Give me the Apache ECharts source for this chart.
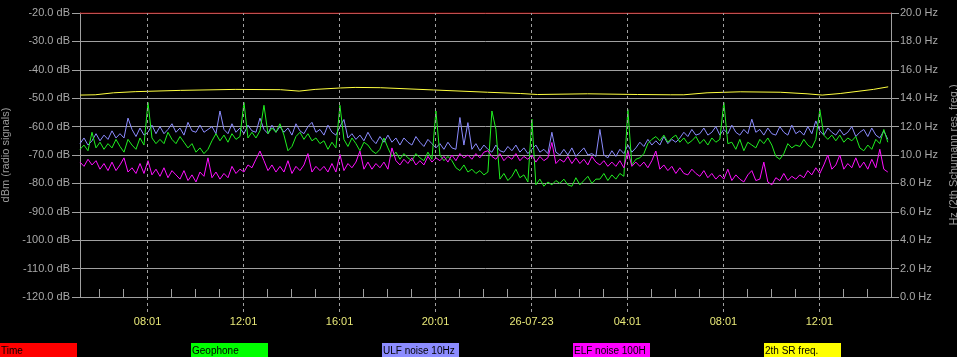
<!DOCTYPE html>
<html>
<head>
<meta charset="utf-8">
<script src="https://cdn.jsdelivr.net/npm/echarts@6/dist/echarts.min.js"></script>
<style>
  html, body { margin: 0; padding: 0; background: #000; }
  #chart { width: 957px; height: 357px; }
</style>
</head>
<body>
<div id="chart"></div>
<script>
// x values are minutes since 25-07-23 00:00, one sample every 10 min
var startMin = 312;
var endMin = 2340;
var stepMin = 10;

var labelTimes = [481, 721, 961, 1201, 1441, 1681, 1921, 2161];
var labelTexts = ["08:01", "12:01", "16:01", "20:01", "26-07-23", "04:01", "08:01", "12:01"];

var legendNames = ["Time", "Geophone", "ULF noise 10Hz", "ELF noise 100H", "2th SR freq."];
var legendColors = ["#ff0000", "#00ff00", "#8c8cff", "#ff00ff", "#ffff00"];

// dBm
var ulf = [
  -66,-64,-66.5,-65,-62.5,-65,-63,-64.5,-61.5,-64,
  -62.5,-64,-57,-61,-63.5,-60.5,-63,-62,-59.5,-62.5,
  -60,-62.5,-61,-59,-62,-60.5,-63,-58.5,-61.5,-62,
  -59.5,-62,-61,-60,-62.5,-54.5,-61,-62.5,-59,-62,
  -60.5,-62.5,-59.5,-61.5,-62,-57,-61,-62.5,-59.5,-62,
  -60,-62,-60.5,-63,-59,-61.5,-62.5,-60,-58.5,-62,
  -61,-63,-59.5,-62,-63,-60,-57.5,-64,-62.5,-64.5,
  -63,-65,-62,-64.5,-66,-63.5,-65.5,-63,-65.5,-64,
  -66.5,-64,-65.5,-66.5,-63.5,-65.5,-67,-64.5,-66,-67.5,
  -66,-68,-65.5,-67.5,-68,-56.8,-66.5,-58.6,-68,-66,
  -68.5,-66.5,-68,-69,-66.5,-68.5,-69,-67,-68.5,-66.5,
  -69,-67.5,-69.5,-68,-66.5,-69,-68,-69.5,-62,-69,
  -70,-68,-70,-67.5,-70.5,-69,-67.5,-70,-69.5,-70.5,
  -61,-70,-71,-68.5,-70.5,-68,-69.5,-66.5,-69,-67.5,
  -65.5,-67,-64.5,-66.5,-65,-66.5,-63.5,-66,-64.5,-65.5,
  -64,-62,-63.5,-61,-63,-62.5,-60.5,-63,-62,-60,
  -63,-61,-62.5,-59.5,-62,-63,-61,-62.5,-57.4,-62,
  -61,-63,-60.5,-62.5,-63,-60,-62,-63,-59.5,-62.5,
  -61.5,-63,-60,-62.5,-58,-61.5,-63,-60.5,-62,-63,
  -61,-63,-62,-60,-63.5,-62,-61,-63.5,-60.5,-63,
  -64,-61.5,-64.5
];

var geophone = [
  -68,-66.5,-68.5,-62,-67.5,-65.5,-68,-66,-67.5,-64.5,
  -67,-69,-64.5,-66.5,-68,-64,-66.5,-51.5,-64,-66,
  -64.5,-66,-62,-64.5,-66,-63.5,-65.5,-67.5,-66,-69,
  -67.5,-69.5,-68,-65,-62.5,-65,-63,-65.5,-62.5,-64.5,
  -63.5,-51.5,-64,-62,-64,-61.5,-52.5,-62.5,-60.5,-62,
  -59,-63,-68.5,-67,-63.5,-62,-64.5,-62.5,-65,-64,
  -66,-65,-68,-65.5,-67.5,-52.5,-64.5,-67,-64,-66,
  -68.5,-65.5,-66.5,-68.5,-69.5,-68,-64,-67.5,-70.5,-69,
  -71.5,-69.5,-71,-72,-69.5,-71,-72,-69,-71.5,-54.5,
  -70,-72,-70.5,-72,-74.5,-75.5,-73.5,-76,-75,-76.5,
  -75.5,-77,-76,-54.5,-61,-78.5,-76.5,-79,-77.5,-75,
  -78,-77,-79.5,-57.4,-80.5,-78.5,-81,-79.5,-80.5,-79,
  -80,-78.5,-80.5,-81,-78,-80.5,-79,-77.5,-80,-78.5,
  -78.5,-76.5,-79,-77,-78.5,-76.5,-77.5,-54,-73.5,-71.5,
  -71,-69.5,-66,-64.5,-63.5,-65,-63,-65.5,-64,-63,
  -65.5,-64,-66,-65,-63.5,-66,-64.5,-66.5,-64,-65.5,
  -64.5,-51.5,-66,-65.5,-68,-64.5,-68.5,-65.5,-66.5,-67.5,
  -64.5,-66,-64,-66.5,-70.5,-71.5,-69.5,-66,-67.5,-66.5,
  -67,-64.5,-66.5,-67.5,-64.5,-54,-63,-64.5,-63,-65,
  -63,-65.5,-64,-65,-63.5,-67.5,-68.5,-66.5,-68,-64.5,
  -66,-61,-65.5
];

var elf = [
  -72.5,-74,-71.5,-73.5,-72,-75,-73,-75.5,-72.5,-75.5,
  -73.5,-71,-76,-74.5,-76.5,-73,-76.5,-72,-77,-75,
  -77.5,-74.5,-78,-75.5,-77,-78.5,-75.5,-79,-77,-79.5,
  -76,-77.5,-71,-78,-76,-78.5,-76.5,-78,-74,-76.5,
  -75,-76,-73.5,-74.5,-71.5,-68.6,-72,-75.5,-73.5,-76,
  -74,-76,-72,-76.5,-74,-75.5,-73.5,-69.5,-76,-74,
  -75.5,-74,-76,-73,-76,-69.8,-75.5,-73,-74.5,-72.5,
  -68.6,-75,-72.5,-75,-73,-74.5,-72.5,-75,-67.5,-72,
  -73.5,-71.5,-73,-71,-73.5,-72,-73.5,-70.5,-72.5,-71,
  -72,-70.5,-72.5,-70,-72,-69.5,-71,-70,-71.5,-69.5,
  -71,-69,-68.5,-70.5,-71.5,-69.5,-72,-70.5,-71.5,-69.5,
  -72,-70.5,-71.5,-70,-72.5,-70.5,-72,-71,-65.6,-73,
  -71.5,-72.5,-70.5,-73,-71,-73,-71.5,-73.5,-70.5,-72.5,
  -73.5,-72,-74,-72.5,-74,-72,-74.5,-68.5,-74,-72.5,
  -74,-72.5,-74.5,-72,-68.6,-75,-73.5,-75.5,-74,-76.5,
  -74.5,-76.5,-77,-75,-76.5,-77.5,-75.5,-78,-76.5,-78.5,
  -77,-78.5,-75,-79,-77,-78.5,-79.5,-77,-75.5,-79,
  -78.5,-72.5,-79.5,-80.5,-78,-79,-76.5,-79,-77.5,-78.5,
  -77,-78,-75.5,-77,-74.5,-76.5,-73.5,-70,-75,-73.5,
  -70,-75,-73,-74.5,-71,-74.5,-72.5,-75,-71.5,-74.5,
  -68,-75,-76
];

// Hz, right axis
var srTimes = [313, 350, 396, 450, 563, 700, 813, 860, 900, 963, 1000, 1063, 1196, 1331, 1413, 1456, 1581, 1706, 1788, 1822, 1880, 1963, 2063, 2130, 2168, 2213, 2296, 2333];
var srHz = [14.22, 14.24, 14.38, 14.46, 14.55, 14.62, 14.6, 14.5, 14.62, 14.72, 14.76, 14.74, 14.58, 14.42, 14.33, 14.26, 14.31, 14.26, 14.24, 14.24, 14.38, 14.45, 14.42, 14.31, 14.22, 14.33, 14.62, 14.8];

function toPairs(values) {
  return values.map(function (v, i) { return [startMin + i * stepMin, v]; });
}

var hourTicks = [];
for (var t = 361; t < endMin; t += 60) hourTicks.push(t);

var grey = "#a0a0a0";
var font = "Liberation Sans";

var chartDom = document.getElementById("chart");
var myChart = echarts.init(chartDom);
var option;

option = {
  backgroundColor: "#000000",
  animation: false,
  textStyle: { fontFamily: font },
  grid: { left: 80, right: 66, top: 13, bottom: 60, containLabel: false, outerBoundsMode: "none" },
  legend: {
    left: -5,
    top: 343,
    padding: 0,
    itemGap: 109,
    itemWidth: 0,
    itemHeight: 14,
    icon: "none",
    selectedMode: false,
    data: legendNames,
    formatter: function (name) {
      return "{c" + legendNames.indexOf(name) + "|" + name + "}";
    },
    textStyle: {
      rich: legendNames.reduce(function (acc, n, i) {
        acc["c" + i] = {
          backgroundColor: legendColors[i],
          color: "#000",
          width: 76,
          height: 14,
          lineHeight: 14,
          padding: [1, 0, 0, 1],
          fontSize: 10,
          fontFamily: font,
        };
        return acc;
      }, {}),
    },
  },
  xAxis: [
    {
      type: "value",
      min: startMin,
      max: endMin,
      position: "bottom",
      axisLine: { show: true, lineStyle: { color: grey } },
      axisTick: { show: true, inside: true, length: 8, customValues: hourTicks, lineStyle: { color: grey } },
      axisLabel: { show: false },
      splitLine: { show: false },
    },
    {
      type: "value",
      min: startMin,
      max: endMin,
      position: "bottom",
      axisLine: { show: false },
      axisTick: { show: true, length: 16, customValues: labelTimes, lineStyle: { color: grey, type: [3, 3] } },
      axisLabel: {
        customValues: labelTimes,
        margin: 19,
        color: "#e8e878",
        fontSize: 11,
        formatter: function (v) {
          return labelTexts[labelTimes.indexOf(v)];
        },
      },
      splitLine: { show: false },
    },
  ],
  yAxis: [
    {
      type: "value",
      min: -120,
      max: -20,
      interval: 10,
      position: "left",
      name: "dBm (radio signals)",
      nameLocation: "middle",
      nameRotate: 90,
      nameGap: 59,
      nameTextStyle: { color: "#9a9a9a", fontSize: 11 },
      axisLine: { show: true, lineStyle: { color: grey } },
      axisTick: { show: true, length: 8, lineStyle: { color: grey } },
      axisLabel: {
        color: "#a8a8a8",
        fontSize: 11,
        margin: 10,
        formatter: function (v) { return v.toFixed(1) + " dB"; },
      },
      splitLine: { show: true, lineStyle: { color: grey, width: 1 } },
    },
    {
      type: "value",
      min: 0,
      max: 20,
      interval: 2,
      position: "right",
      name: "Hz (2th Schumann res. freq.)",
      nameLocation: "middle",
      nameRotate: 90,
      nameGap: 52,
      nameTextStyle: { color: "#9a9a9a", fontSize: 11 },
      axisLine: { show: true, lineStyle: { color: grey } },
      axisTick: { show: true, length: 8, lineStyle: { color: grey } },
      axisLabel: {
        color: "#a8a8a8",
        fontSize: 11,
        margin: 9,
        formatter: function (v) { return v.toFixed(1) + " Hz"; },
      },
      splitLine: { show: false },
    },
  ],
  series: [
    {
      name: "Time",
      type: "line",
      data: [[startMin, -20], [endMin, -20]],
      symbol: "none",
      lineStyle: { color: "#e00000", width: 1 },
      itemStyle: { color: legendColors[0] },
      markLine: {
        silent: true,
        symbol: "none",
        label: { show: false },
        lineStyle: { color: grey, type: [3, 3], width: 1 },
        data: labelTimes.map(function (t) { return { xAxis: t }; }),
      },
    },
    {
      name: "ULF noise 10Hz",
      type: "line",
      data: toPairs(ulf),
      symbol: "none",
      lineStyle: { color: "#8c8cff", width: 1 },
      itemStyle: { color: legendColors[2] },
    },
    {
      name: "Geophone",
      type: "line",
      data: toPairs(geophone),
      symbol: "none",
      lineStyle: { color: "#20f020", width: 1 },
      itemStyle: { color: legendColors[1] },
    },
    {
      name: "ELF noise 100H",
      type: "line",
      data: toPairs(elf),
      symbol: "none",
      lineStyle: { color: "#ff10ff", width: 1 },
      itemStyle: { color: legendColors[3] },
    },
    {
      name: "2th SR freq.",
      type: "line",
      yAxisIndex: 1,
      data: srTimes.map(function (t, i) { return [t, srHz[i]]; }),
      symbol: "none",
      lineStyle: { color: "#ffff40", width: 1 },
      itemStyle: { color: legendColors[4] },
    },
  ],
};

option && myChart.setOption(option);
</script>
</body>
</html>
